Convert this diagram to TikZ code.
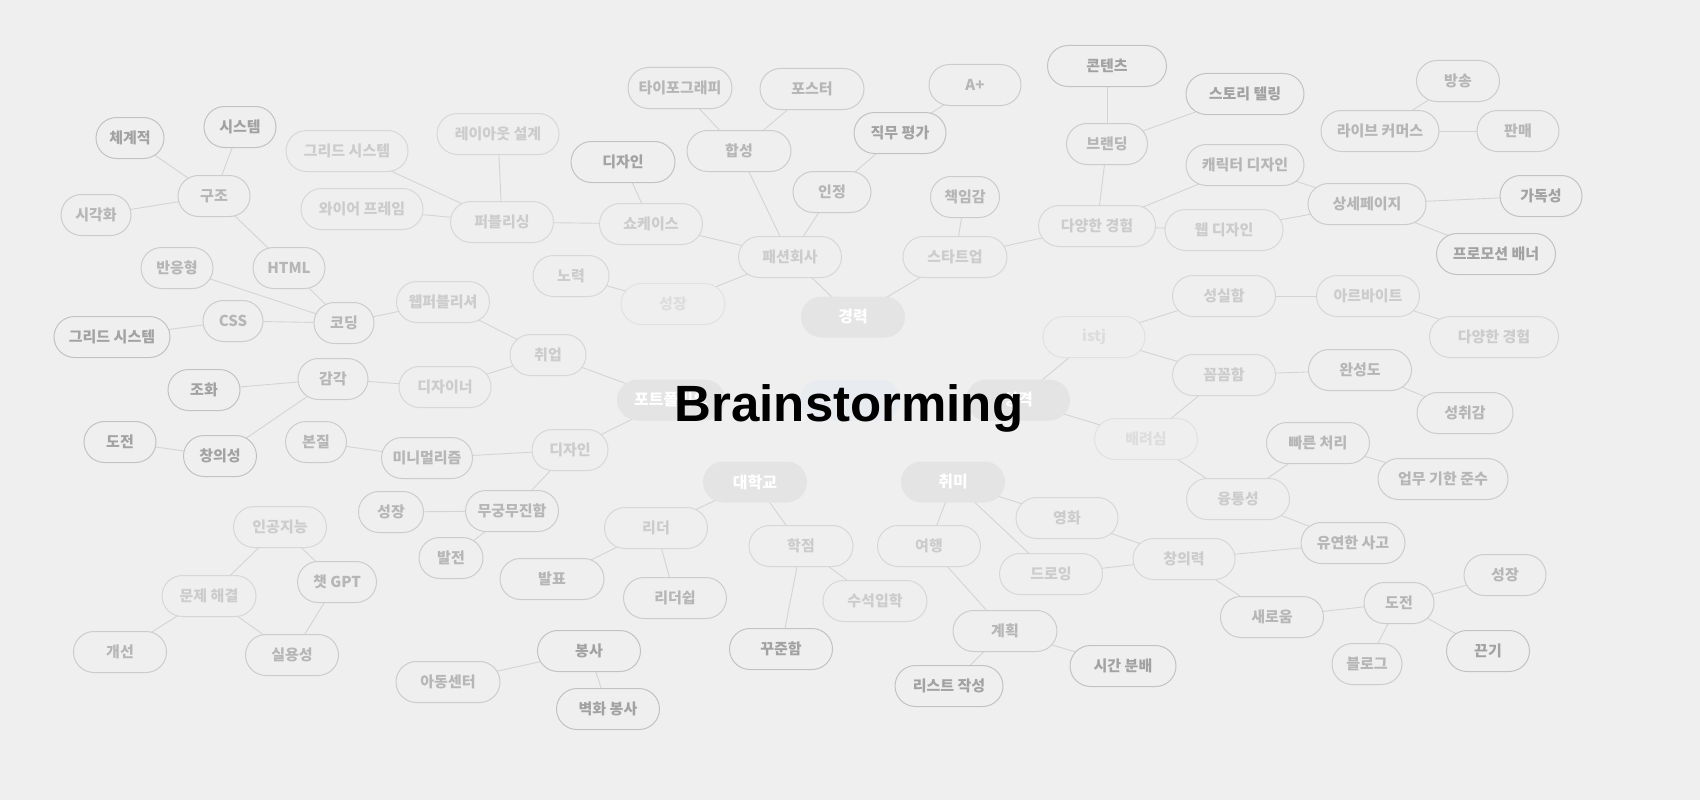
\documentclass[tikz,border=0pt]{standalone}
\usepackage{fontspec}
\setmainfont{Noto Sans CJK KR}
\newfontfamily\titlefont{Liberation Sans}[BoldFont={Liberation Sans Bold}]
\usepackage{tikz}
\usetikzlibrary{backgrounds}
\definecolor{Paper}{HTML}{EFEFEF}
\definecolor{InkDark}{HTML}{A2A2A2}
\definecolor{InkMid}{HTML}{B6B6B6}
\definecolor{InkLight}{HTML}{CCCCCC}
\definecolor{InkFaint}{HTML}{DDDDDD}
\definecolor{RimDark}{HTML}{C2C2C2}
\definecolor{RimMid}{HTML}{CCCCCC}
\definecolor{RimLight}{HTML}{D7D7D7}
\definecolor{RimFaint}{HTML}{E1E1E1}
\definecolor{HubFill}{HTML}{E4E4E4}
\definecolor{HubBlue}{HTML}{E8EBF0}
\definecolor{Wire}{HTML}{D4D4D4}
\pgfdeclarelayer{wires}
\pgfsetlayers{background,wires,main}
\tikzset{
  idea/.style={rectangle, rounded corners=20.5pt, minimum height=41pt, inner sep=0pt, fill=Paper, line width=1pt, font=\fontsize{15}{15}\selectfont\bfseries},
  ideadark/.style={idea, draw=RimDark, text=InkDark},
  ideamid/.style={idea, draw=RimMid, text=InkMid},
  idealight/.style={idea, draw=RimLight, text=InkLight},
  ideafaint/.style={idea, draw=RimFaint, text=InkFaint},
  hub/.style={rectangle, rounded corners=20.5pt, minimum height=41pt, inner sep=0pt, fill=HubFill, text=white, font=\fontsize{16}{16}\selectfont\bfseries},
  link/.style={draw=Wire, line width=0.9pt}
}

\begin{document}
\begin{tikzpicture}[x=1pt, y=-1pt]
\begin{pgfonlayer}{background}
\fill[Paper] (0,0) rectangle (1700,800);
\end{pgfonlayer}
\useasboundingbox (0,0) rectangle (1700,800);
% left top: coding / structure
\node[ideadark, minimum width=68pt] (chegye) at (130,138) {체계적};
\node[ideadark, minimum width=72pt] (system) at (240,127) {시스템};
\node[ideamid, minimum width=72pt] (gujo) at (214,196) {구조};
\node[ideamid, minimum width=70pt] (sigak) at (96,215) {시각화};
\node[ideamid, minimum width=72pt] (html) at (289,268) {HTML};
\node[ideamid, minimum width=72pt] (banung) at (177,268) {반응형};
\node[ideamid, minimum width=60pt] (coding) at (344,323) {코딩};
\node[ideamid, minimum width=60pt] (css) at (233,321) {CSS};
\node[ideadark, minimum width=116pt] (gridB) at (112,337) {그리드 시스템};
\node[idealight, minimum width=93pt] (webpub) at (443,302) {웹퍼블리셔};
\node[idealight, minimum width=76pt] (job) at (548,355) {취업};
\node[ideamid, minimum width=70pt] (gamgak) at (333,379) {감각};
\node[ideadark, minimum width=72pt] (johwa) at (204,390) {조화};
\node[idealight, minimum width=92pt] (designer) at (445,387) {디자이너};
\node[ideadark, minimum width=72pt] (challengeA) at (120,442) {도전};
\node[ideadark, minimum width=73pt] (creativity) at (220,456) {창의성};
% publishing / fashion
\node[idealight, minimum width=122pt] (gridA) at (347,151) {그리드 시스템};
\node[idealight, minimum width=122pt] (layout) at (498,134) {레이아웃 설계};
\node[idealight, minimum width=122pt] (wire) at (362,209) {와이어 프레임};
\node[idealight, minimum width=103pt] (publish) at (502,222) {퍼블리싱};
\node[ideadark, minimum width=104pt] (designA) at (623,162) {디자인};
\node[idealight, minimum width=103pt] (showcase) at (651,224) {쇼케이스};
\node[ideamid, minimum width=104pt] (typo) at (680,88) {타이포그래피};
\node[ideamid, minimum width=104pt] (poster) at (812,89) {포스터};
\node[ideamid, minimum width=104pt] (hapsung) at (739,151) {합성};
\node[ideamid, minimum width=92pt] (aplus) at (975,85) {A+};
\node[ideadark, minimum width=92pt] (jikmu) at (900,133) {직무 평가};
\node[ideamid, minimum width=78pt] (injeong) at (832,192) {인정};
\node[idealight, minimum width=103pt] (fashion) at (790,257) {패션회사};
\node[ideamid, minimum width=69pt] (chaekim) at (965,197) {책임감};
\node[idealight, minimum width=104pt] (startup) at (955,257) {스타트업};
\node[idealight, minimum width=76pt] (noryeok) at (571,276) {노력};
\node[ideafaint, minimum width=104pt] (growA) at (673,304) {성장};
\node[hub, minimum width=104pt] (career) at (853,317) {경력};
% branding
\node[ideadark, minimum width=119pt] (contents) at (1107,66) {콘텐츠};
\node[ideadark, minimum width=118pt] (story) at (1245,94) {스토리 텔링};
\node[ideamid, minimum width=81pt] (branding) at (1107,144) {브랜딩};
\node[ideamid, minimum width=118pt] (character) at (1245,165) {캐릭터 디자인};
\node[idealight, minimum width=117pt] (varietyA) at (1097,226) {다양한 경험};
\node[idealight, minimum width=118pt] (webdesign) at (1224,230) {웹 디자인};
\node[ideamid, minimum width=118pt] (detail) at (1367,204) {상세페이지};
\node[ideadark, minimum width=82pt] (readable) at (1541,196) {가독성};
\node[ideadark, minimum width=119pt] (promo) at (1496,254) {프로모션 배너};
\node[ideamid, minimum width=83pt] (broadcast) at (1458,81) {방송};
\node[ideamid, minimum width=118pt] (livecom) at (1380,131) {라이브 커머스};
\node[ideamid, minimum width=82pt] (sales) at (1518,131) {판매};
% personality
\node[ideafaint, minimum width=102pt] (istj) at (1094,337) {istj};
\node[idealight, minimum width=103pt] (sincere) at (1224,296) {성실함};
\node[idealight, minimum width=103pt] (parttime) at (1368,296) {아르바이트};
\node[idealight, minimum width=129pt] (varietyB) at (1494,337) {다양한 경험};
\node[idealight, minimum width=103pt] (meticulous) at (1224,375) {꼼꼼함};
\node[ideamid, minimum width=103pt] (completeness) at (1360,370) {완성도};
\node[ideamid, minimum width=96pt] (achieve) at (1465,413) {성취감};
\node[ideafaint, minimum width=103pt] (consideration) at (1146,439) {배려심};
\node[ideamid, minimum width=103pt] (quick) at (1318,443) {빠른 처리};
\node[ideamid, minimum width=130pt] (deadline) at (1443,479) {업무 기한 준수};
\node[idealight, minimum width=103pt] (flexible) at (1238,499) {융통성};
\node[ideamid, minimum width=104pt] (flexthink) at (1353,543) {유연한 사고};
\node[idealight, minimum width=102pt] (creative) at (1184,559) {창의력};
\node[ideamid, minimum width=103pt] (novelty) at (1272,617) {새로움};
\node[ideamid, minimum width=70pt] (challengeB) at (1399,603) {도전};
\node[ideamid, minimum width=82pt] (growC) at (1505,575) {성장};
\node[ideadark, minimum width=83pt] (grit) at (1488,651) {끈기};
\node[ideamid, minimum width=70pt] (blog) at (1367,664) {블로그};
% hobby
\node[hub, minimum width=104pt] (hobby) at (953,482) {취미};
\node[idealight, minimum width=103pt] (travel) at (929,546) {여행};
\node[idealight, minimum width=102pt] (movie) at (1067,518) {영화};
\node[idealight, minimum width=103pt] (drawing) at (1051,574) {드로잉};
\node[ideamid, minimum width=104pt] (plan) at (1005,631) {계획};
\node[ideadark, minimum width=108pt] (list) at (949,686) {리스트 작성};
\node[ideadark, minimum width=106pt] (timeplan) at (1123,666) {시간 분배};
% university
\node[hub, minimum width=104pt] (univ) at (755,482) {대학교};
\node[idealight, minimum width=103pt] (leader) at (656,528) {리더};
\node[ideamid, minimum width=104pt] (present) at (552,579) {발표};
\node[ideamid, minimum width=103pt] (leadership) at (675,598) {리더쉽};
\node[idealight, minimum width=104pt] (grade) at (801,546) {학점};
\node[idealight, minimum width=104pt] (topadmit) at (875,601) {수석입학};
\node[ideadark, minimum width=103pt] (steady) at (781,649) {꾸준함};
% portfolio
\node[hub, minimum width=108pt] (portfolio) at (671,400) {포트폴리오};
\node[hub, minimum width=100pt, fill=HubBlue] (center) at (850,400) {};
\node[hub, minimum width=104pt] (personality) at (1018,400) {성격};
\node[ideamid, minimum width=61pt] (essence) at (316,442) {본질};
\node[ideamid, minimum width=91pt] (minimal) at (427,458) {미니멀리즘};
\node[idealight, minimum width=76pt] (designB) at (570,450) {디자인};
\node[ideamid, minimum width=65pt] (growB) at (391,512) {성장};
\node[ideamid, minimum width=93pt] (endless) at (512,511) {무궁무진함};
\node[ideamid, minimum width=64pt] (develop) at (451,558) {발전};
% ai
\node[idealight, minimum width=93pt] (ai) at (280,527) {인공지능};
\node[ideamid, minimum width=79pt] (gpt) at (337,582) {챗 GPT};
\node[idealight, minimum width=94pt] (problem) at (209,596) {문제 해결};
\node[ideamid, minimum width=93pt] (improve) at (120,652) {개선};
\node[ideamid, minimum width=93pt] (practical) at (292,655) {실용성};
% volunteer
\node[ideadark, minimum width=103pt] (volunteer) at (589,651) {봉사};
\node[ideamid, minimum width=104pt] (childcenter) at (448,682) {아동센터};
\node[ideadark, minimum width=103pt] (mural) at (608,709) {벽화 봉사};
\begin{pgfonlayer}{wires}
\foreach \a/\b in {chegye/gujo,system/gujo,sigak/gujo,gujo/html,html/coding,banung/coding,css/coding,gridB/css,coding/webpub,webpub/job,job/designer,designer/gamgak,gamgak/johwa,gamgak/creativity,creativity/challengeA,job/portfolio,
  gridA/publish,layout/publish,wire/publish,publish/showcase,designA/showcase,showcase/fashion,typo/hapsung,poster/hapsung,hapsung/fashion,aplus/jikmu,jikmu/injeong,injeong/fashion,fashion/career,noryeok/growA,growA/fashion,chaekim/startup,startup/career,startup/varietyA,
  varietyA/branding,branding/contents,branding/story,varietyA/character,varietyA/webdesign,character/detail,webdesign/detail,detail/readable,detail/promo,livecom/broadcast,livecom/sales,
  personality/istj,istj/sincere,istj/meticulous,sincere/parttime,parttime/varietyB,meticulous/completeness,completeness/achieve,meticulous/consideration,personality/consideration,consideration/flexible,flexible/quick,quick/deadline,flexible/flexthink,flexthink/creative,creative/movie,creative/drawing,creative/novelty,novelty/challengeB,challengeB/growC,challengeB/grit,challengeB/blog,
  hobby/movie,hobby/drawing,hobby/travel,travel/plan,plan/list,plan/timeplan,
  univ/leader,leader/present,leader/leadership,univ/grade,grade/topadmit,grade/steady,
  portfolio/designB,designB/minimal,minimal/essence,designB/endless,endless/growB,endless/develop,
  ai/problem,ai/gpt,gpt/practical,problem/practical,problem/improve,
  volunteer/childcenter,volunteer/mural}
  \draw[link] (\a.center) -- (\b.center);
\end{pgfonlayer}
\node[anchor=base, font=\titlefont\fontsize{51}{51}\selectfont\bfseries] (title) at (849,421) {Brainstorming};
\end{tikzpicture}
\end{document}
